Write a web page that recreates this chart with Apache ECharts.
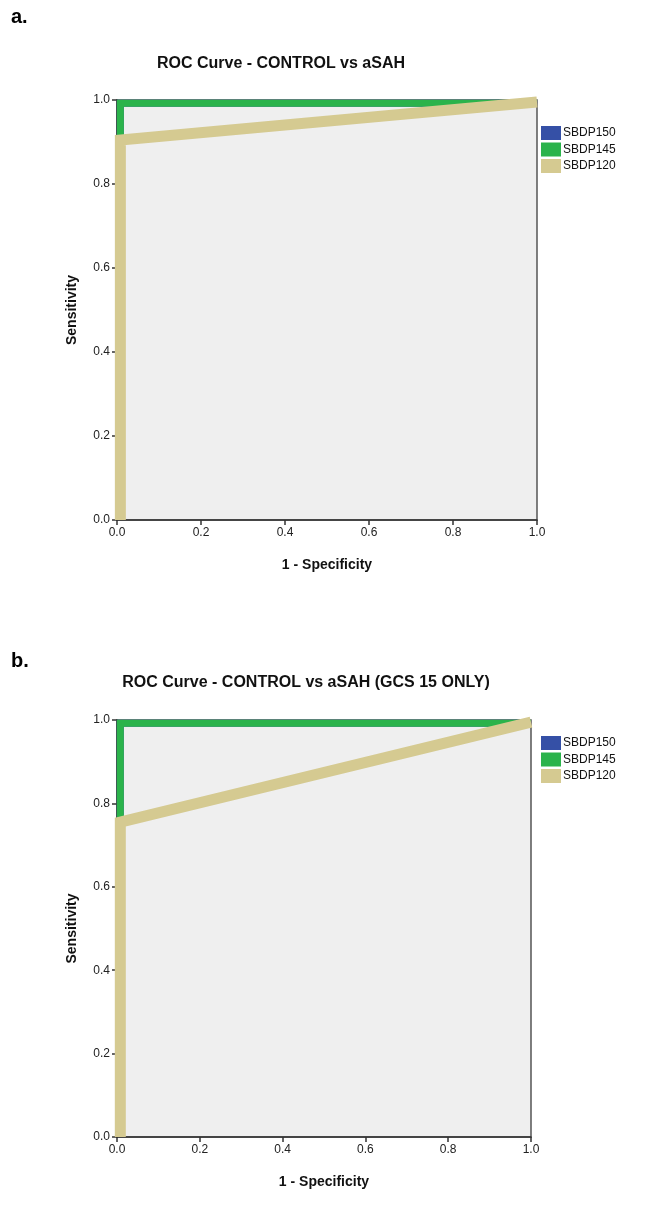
<!DOCTYPE html>
<html>
<head>
<meta charset="utf-8">
<script src="https://cdn.jsdelivr.net/npm/echarts@6/dist/echarts.min.js"></script>
<style>
  html, body { margin: 0; padding: 0; background: #fff; }
  #chart { width: 648px; height: 1220px; }
</style>
</head>
<body>
<div id="chart"></div>
<script>
// series names + colours
const names = ['SBDP150', 'SBDP145', 'SBDP120'];
const colors = ['#3550a6', '#2bb34b', '#d5ca91'];
const ticks = [0, 0.2, 0.4, 0.6, 0.8, 1.0];

// panel a: CONTROL vs aSAH  (1 - specificity, sensitivity)
const fprA150 = [0.008, 0.008, 1];
const tprA150 = [0, 0.992, 0.992];
const fprA145 = [0.008, 0.008, 1];
const tprA145 = [0, 0.992, 0.992];
const fprA120 = [0.008, 0.008, 1];
const tprA120 = [0, 0.905, 0.995];

// panel b: CONTROL vs aSAH (GCS 15 ONLY)
const fprB150 = [0.008, 0.008, 1];
const tprB150 = [0, 0.992, 0.992];
const fprB145 = [0.008, 0.008, 1];
const tprB145 = [0, 0.992, 0.992];
const fprB120 = [0.008, 0.008, 1];
const tprB120 = [0, 0.755, 0.995];

let myChart = echarts.init(document.getElementById('chart'));

let zip = (xs, ys) => xs.map((x, i) => [x, ys[i]]);
let font = 'Liberation Sans, Arial, sans-serif';

let axis = (idx, name, gap) => ({
  type: 'value',
  gridIndex: idx,
  min: 0,
  max: 1,
  interval: 0.2,
  name: name,
  nameLocation: 'middle',
  nameGap: gap,
  nameTextStyle: { fontFamily: font, fontSize: 14, fontWeight: 'bold', color: '#111' },
  axisLine: { show: true, onZero: false, lineStyle: { color: '#333', width: 1.5 } },
  axisTick: { show: true, length: 5, lineStyle: { color: '#333', width: 1.5 } },
  axisLabel: {
    fontFamily: font, fontSize: 12, color: '#222', margin: 7,
    formatter: v => v.toFixed(1)
  },
  splitLine: { show: false }
});

let line = (idx, name, color, xs, ys, width) => ({
  type: 'line',
  name: name,
  xAxisIndex: idx,
  yAxisIndex: idx,
  data: zip(xs, ys),
  symbol: 'none',
  color: color,
  lineStyle: { color: color, width: width, join: 'miter', cap: 'butt' },
  animation: false
});

let legend = (left, top) => ({
  data: names,
  orient: 'vertical',
  left: left,
  top: top,
  padding: 0,
  icon: 'rect',
  itemWidth: 20,
  itemHeight: 14,
  itemGap: 2.5,
  selectedMode: false,
  textStyle: { fontFamily: font, fontSize: 12, color: '#111', padding: [0, 0, 0, -3] }
});

let option = {
  backgroundColor: '#fff',
  animation: false,
  graphic: [
    { type: 'text', left: 11, top: 7, style: { text: 'a.', font: 'bold 20px ' + font, fill: '#000' } },
    { type: 'text', left: 11, top: 651, style: { text: 'b.', font: 'bold 20px ' + font, fill: '#000' } },
    { type: 'text', x: 281, y: 64, style: { text: 'ROC Curve - CONTROL vs aSAH', font: 'bold 16px ' + font, fill: '#111', textAlign: 'center', textVerticalAlign: 'middle' } },
    { type: 'text', x: 306, y: 683, style: { text: 'ROC Curve - CONTROL vs aSAH (GCS 15 ONLY)', font: 'bold 16px ' + font, fill: '#111', textAlign: 'center', textVerticalAlign: 'middle' } }
  ],
  legend: [legend(541, 126), legend(541, 736)],
  grid: [
    { left: 117, top: 100, width: 420, height: 420, show: true, backgroundColor: '#efefef', borderColor: '#555', borderWidth: 1.5 },
    { left: 117, top: 720, width: 414, height: 417, show: true, backgroundColor: '#efefef', borderColor: '#555', borderWidth: 1.5 }
  ],
  xAxis: [axis(0, '1 - Specificity', 38), axis(1, '1 - Specificity', 38)],
  yAxis: [axis(0, 'Sensitivity', 38), axis(1, 'Sensitivity', 38)],
  series: [
    line(0, names[0], colors[0], fprA150, tprA150, 7),
    line(0, names[1], colors[1], fprA145, tprA145, 7),
    line(0, names[2], colors[2], fprA120, tprA120, 11),
    line(1, names[0], colors[0], fprB150, tprB150, 7),
    line(1, names[1], colors[1], fprB145, tprB145, 7),
    line(1, names[2], colors[2], fprB120, tprB120, 11)
  ]
};

option && myChart.setOption(option);
</script>
</body>
</html>
